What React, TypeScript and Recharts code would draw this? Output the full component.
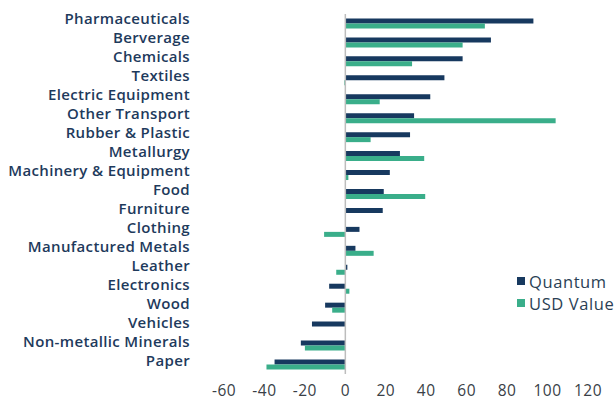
import { BarChart, Bar, XAxis, YAxis, ReferenceLine } from 'recharts'

const categories = [
  'Pharmaceuticals',
  'Berverage',
  'Chemicals',
  'Textiles',
  'Electric Equipment',
  'Other Transport',
  'Rubber & Plastic',
  'Metallurgy',
  'Machinery & Equipment',
  'Food',
  'Furniture',
  'Clothing',
  'Manufactured Metals',
  'Leather',
  'Electronics',
  'Wood',
  'Vehicles',
  'Non-metallic Minerals',
  'Paper',
]
const quantum = [93, 72, 58, 49, 42, 34, 32, 27, 22, 19, 18.5, 7, 5, 1, -8, -10, -16.5, -22, -35]
const usdValue = [69, 58, 33, -0.5, 17, 104, 12.5, 39, 1.5, 39.5, 0, -10.5, 14, -4.5, 2, -6.5, 0, -20, -39]
const xTicks = [-60, -40, -20, 0, 20, 40, 60, 80, 100, 120]
const seriesNames = ['Quantum', 'USD Value']

const NAVY = '#17395f'
const TEAL = '#3aae8a'
const TEXT = '#1e3a5c'
const FONT = '"Open Sans", sans-serif'

const data = categories.map((c, i) => ({ name: c, quantum: quantum[i], usd: usdValue[i] }))

function CategoryTick(props: any) {
  const { x, y, payload } = props
  return (
    <text x={x + 1} y={y} dy={1} textAnchor="end" fill={TEXT} fontSize={15} fontWeight={600} fontFamily={FONT} letterSpacing={0.35}>
      {payload.value}
    </text>
  )
}

export default function App() {
  const colors = [NAVY, TEAL]
  return (
    <div style={{ position: 'absolute', left: 0, top: 0, width: 614, height: 400, background: '#fff' }}>
      <BarChart
        width={614}
        height={400}
        data={data}
        layout="vertical"
        margin={{ top: 14, right: 26, bottom: 0, left: 0 }}
        barCategoryGap="23.5%"
        barGap={0}
      >
        <XAxis
          type="number"
          domain={[-60, 120]}
          ticks={xTicks}
          axisLine={false}
          tickLine={false}
          tickSize={0}
          tickMargin={11}
          height={26}
          tick={{ fill: '#3a3f47', fontSize: 15.5, fontFamily: FONT, letterSpacing: 0.5 }}
        />
        <YAxis
          type="category"
          dataKey="name"
          width={224}
          axisLine={false}
          tickLine={false}
          tickSize={0}
          tickMargin={35}
          interval={0}
          tick={<CategoryTick />}
        />
        <ReferenceLine x={0} stroke="#bdbdbd" strokeWidth={1.5} />
        <Bar dataKey="quantum" name="Quantum" fill={NAVY} isAnimationActive={false} />
        <Bar dataKey="usd" name="USD Value" fill={TEAL} isAnimationActive={false} />
      </BarChart>
      <div style={{ position: 'absolute', left: 517, top: 270, width: 97, whiteSpace: 'nowrap', fontFamily: FONT, fontSize: 16.5, letterSpacing: 0.6, color: '#2b3f55' }}>
        {seriesNames.map((n, i) => (
          <div key={n} style={{ display: 'flex', alignItems: 'center', height: 22 }}>
            <span style={{ width: 8, height: 8, flexShrink: 0, background: colors[i], marginRight: 4, display: 'inline-block' }} />
            {n}
          </div>
        ))}
      </div>
    </div>
  )
}
